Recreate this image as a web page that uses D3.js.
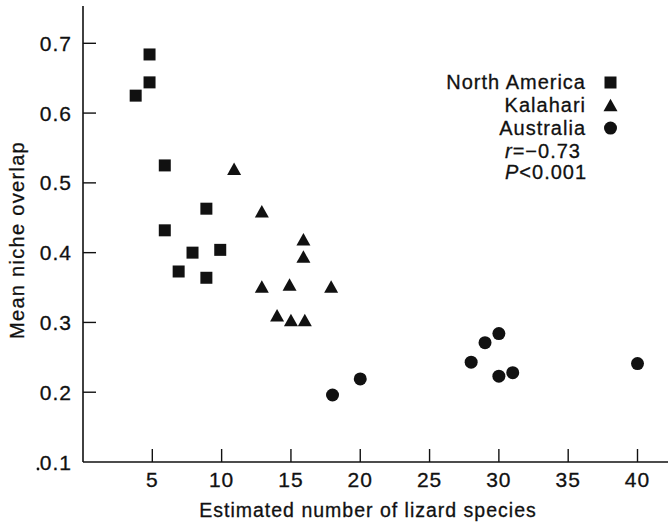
<!DOCTYPE html>
<html>
<head>
<meta charset="utf-8">
<script src="https://cdn.jsdelivr.net/npm/d3@7"></script>
<style>
  body { margin: 0; background: #fff; }
  svg { display: block; }
  text { font-family: 'Liberation Sans', Arial, Helvetica, sans-serif; fill: #111; stroke: #111; stroke-width: 0.3px; }
</style>
</head>
<body>
<svg width="668" height="526"></svg>
<script>
// North America (squares)
var naSpecies = [4.8, 4.8, 3.8, 5.9, 5.9, 8.9, 7.9, 9.9, 6.9, 8.9];
var naOverlap = [0.684, 0.644, 0.625, 0.525, 0.432, 0.463, 0.400, 0.404, 0.373, 0.364];
// Kalahari (triangles)
var kaSpecies = [10.9, 12.9, 15.9, 15.9, 12.9, 14.9, 17.9, 14, 15, 16];
var kaOverlap = [0.520, 0.459, 0.419, 0.394, 0.351, 0.354, 0.351, 0.310, 0.303, 0.303];
// Australia (circles)
var auSpecies = [18, 20, 30, 29, 28, 30, 31, 40];
var auOverlap = [0.196, 0.219, 0.284, 0.271, 0.243, 0.223, 0.228, 0.241];

var xTicks = [5, 10, 15, 20, 25, 30, 35, 40];
var yTicks = [0.1, 0.2, 0.3, 0.4, 0.5, 0.6, 0.7];
var legendNames = ['North America', 'Kalahari', 'Australia'];

var svg = d3.select('svg');

var x = d3.scaleLinear().domain([0, 42.2]).range([83, 668]);
var y = d3.scaleLinear().domain([0.1, 0.7]).range([462, 43.3]);

var shapes = {
  square: 'M-6,-6H6V6H-6Z',
  triangle: 'M0,-6.5L7,6L-7,6Z',
  circle: d3.arc()({ innerRadius: 0, outerRadius: 6.5, startAngle: 0, endAngle: 2 * Math.PI })
};

// axes
svg
  .append('line')
  .attr('x1', x(0))
  .attr('x2', x(0))
  .attr('y1', 6)
  .attr('y2', y(0.1))
  .style('stroke', '#111')
  .style('stroke-width', 1.6);

svg
  .append('line')
  .attr('x1', x(0))
  .attr('x2', 668)
  .attr('y1', y(0.1))
  .attr('y2', y(0.1))
  .style('stroke', '#111')
  .style('stroke-width', 1.6);

svg
  .append('g')
  .selectAll('line')
  .data(xTicks)
  .enter()
  .append('line')
  .attr('x1', function (d) { return x(d); })
  .attr('x2', function (d) { return x(d); })
  .attr('y1', y(0.1))
  .attr('y2', y(0.1) - 13)
  .style('stroke', '#111')
  .style('stroke-width', 1.4);

svg
  .append('g')
  .selectAll('text')
  .data(xTicks)
  .enter()
  .append('text')
  .attr('x', function (d) { return x(d); })
  .attr('y', 487)
  .attr('text-anchor', 'middle')
  .style('font-size', '21px')
  .style('letter-spacing', '1px')
  .text(function (d) { return d; });

svg
  .append('g')
  .selectAll('line')
  .data(yTicks.slice(1))
  .enter()
  .append('line')
  .attr('x1', x(0))
  .attr('x2', x(0) + 13)
  .attr('y1', function (d) { return y(d); })
  .attr('y2', function (d) { return y(d); })
  .style('stroke', '#111')
  .style('stroke-width', 1.4);

svg
  .append('g')
  .selectAll('text')
  .data(yTicks)
  .enter()
  .append('text')
  .attr('x', 72)
  .attr('y', function (d) { return y(d); })
  .attr('dy', '0.36em')
  .attr('text-anchor', 'end')
  .style('font-size', '21px')
  .style('letter-spacing', '1px')
  .text(function (d) { return d3.format('.1f')(d); });

// stray dot before 0.1
svg
  .append('circle')
  .attr('cx', 38)
  .attr('cy', y(0.1) + 7)
  .attr('r', 1.4)
  .style('fill', '#111');

// axis titles
svg
  .append('text')
  .attr('x', 368)
  .attr('y', 517)
  .attr('text-anchor', 'middle')
  .style('font-size', '19.5px')
  .style('letter-spacing', '1px')
  .text('Estimated number of lizard species');

svg
  .append('text')
  .attr('transform', 'translate(24,240) rotate(-90)')
  .attr('text-anchor', 'middle')
  .style('font-size', '20px')
  .style('letter-spacing', '1.3px')
  .text('Mean niche overlap');

// points
function drawSeries(xs, ys, shape) {
  svg
    .append('g')
    .selectAll('path')
    .data(xs)
    .enter()
    .append('path')
    .attr('d', shapes[shape])
    .attr('transform', function (d, i) {
      return 'translate(' + x(d) + ',' + y(ys[i]) + ')';
    })
    .style('fill', '#111');
}

drawSeries(naSpecies, naOverlap, 'square');
drawSeries(kaSpecies, kaOverlap, 'triangle');
drawSeries(auSpecies, auOverlap, 'circle');

// legend
var legendShapes = ['square', 'triangle', 'circle'];
var legend = svg
  .append('g')
  .selectAll('g')
  .data(legendNames)
  .enter()
  .append('g')
  .attr('transform', function (d, i) {
    return 'translate(0,' + (89 + i * 22.8) + ')';
  });

legend
  .append('text')
  .attr('x', 586)
  .attr('text-anchor', 'end')
  .style('font-size', '20px')
  .style('letter-spacing', '1px')
  .text(function (d) { return d; });

legend
  .append('path')
  .attr('d', function (d, i) { return shapes[legendShapes[i]]; })
  .attr('transform', 'translate(610.5,-6.5)')
  .style('fill', '#111');

var rText = svg
  .append('text')
  .attr('x', 505)
  .attr('y', 158)
  .style('font-size', '20px')
  .style('letter-spacing', '1px');
rText.append('tspan').style('font-style', 'italic').text('r');
rText.append('tspan').text('=\u22120.73');

var pText = svg
  .append('text')
  .attr('x', 505)
  .attr('y', 179)
  .style('font-size', '20px')
  .style('letter-spacing', '1px');
pText.append('tspan').style('font-style', 'italic').text('P');
pText.append('tspan').text('<0.001');
</script>
</body>
</html>
